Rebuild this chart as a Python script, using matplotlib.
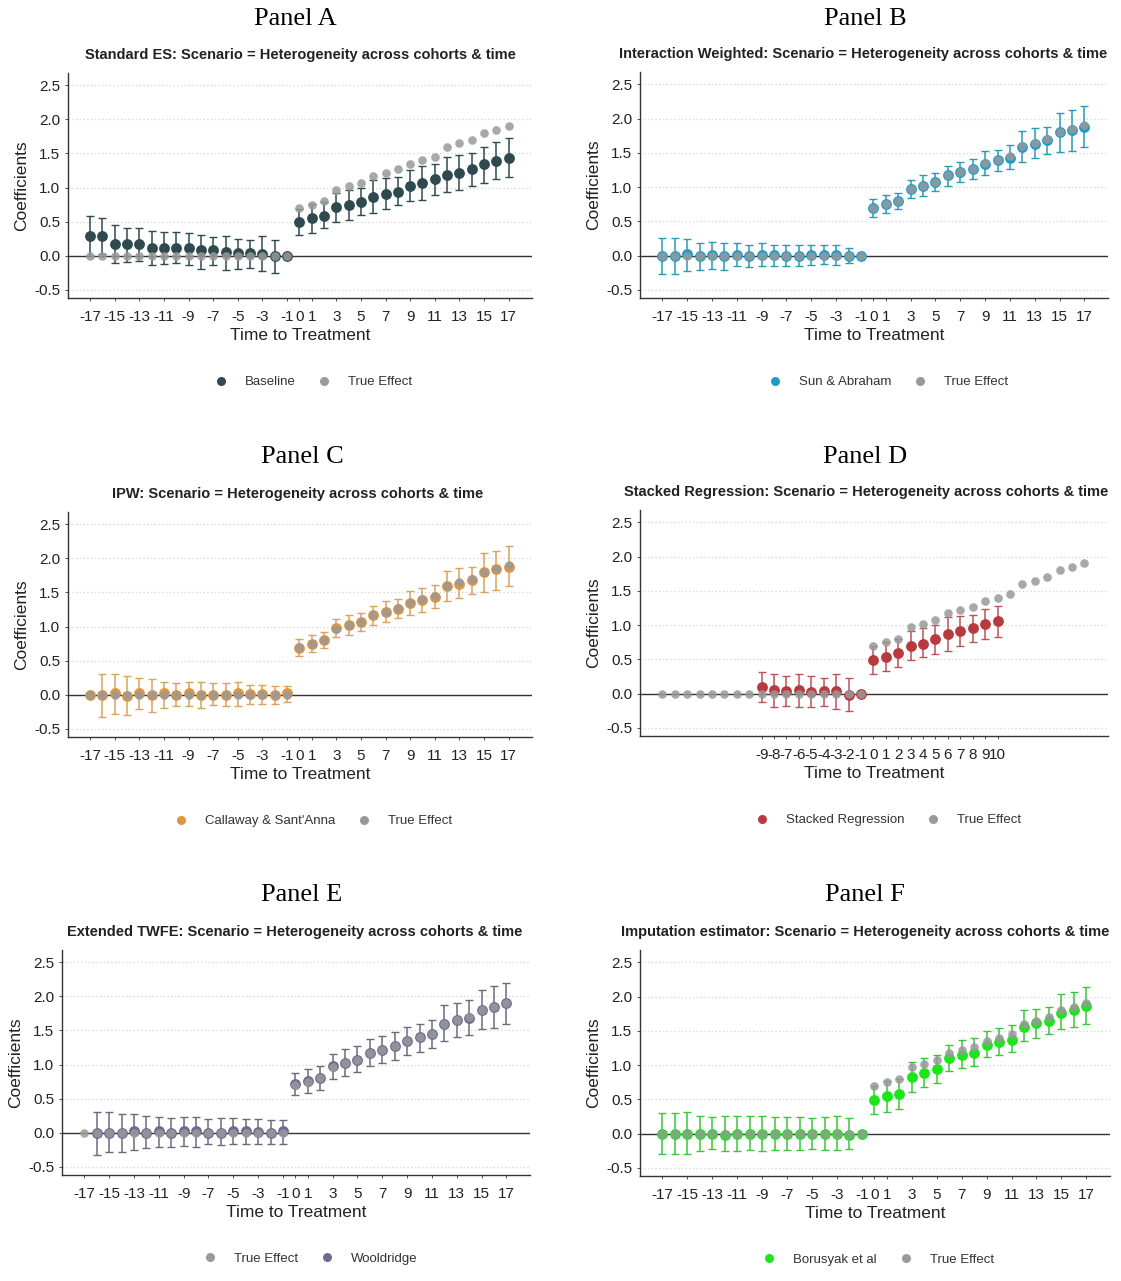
import numpy as np
import matplotlib
matplotlib.use("Agg")
import matplotlib.pyplot as plt
from matplotlib.lines import Line2D

plt.rcParams['font.family'] = ['Liberation Sans', 'DejaVu Sans']

# event time, -17 .. 17
times = list(range(-17, 18))

# true effect (same in every panel)
true_effect = [0.00, 0.00, 0.00, 0.00, 0.00, 0.00, 0.00, 0.00, 0.00, 0.00, 0.00, 0.00, 0.00, 0.00, 0.00, 0.00, 0.00,
               0.70, 0.75, 0.80, 0.97, 1.02, 1.07, 1.17, 1.22, 1.27, 1.35, 1.40, 1.45, 1.60, 1.65, 1.70, 1.80, 1.85, 1.90]

# Panel A - Baseline (standard event study)
base_est = [0.29, 0.29, 0.17, 0.17, 0.17, 0.12, 0.12, 0.12, 0.11, 0.08, 0.08, 0.06, 0.04, 0.04, 0.03, -0.01, 0.00,
            0.49, 0.55, 0.59, 0.72, 0.75, 0.79, 0.86, 0.91, 0.94, 1.02, 1.06, 1.12, 1.19, 1.22, 1.27, 1.34, 1.39, 1.43]
base_lo = [-0.01, 0.02, -0.11, -0.09, -0.07, -0.14, -0.12, -0.10, -0.14, -0.20, -0.14, -0.21, -0.20, -0.18, -0.23, -0.25, None,
           0.30, 0.33, 0.40, 0.50, 0.53, 0.60, 0.63, 0.68, 0.74, 0.80, 0.82, 0.89, 0.93, 0.96, 1.02, 1.07, 1.13, 1.16]
base_hi = [0.58, 0.55, 0.45, 0.41, 0.41, 0.37, 0.35, 0.35, 0.33, 0.30, 0.27, 0.29, 0.25, 0.23, 0.29, 0.23, None,
           0.69, 0.76, 0.79, 0.92, 0.96, 0.99, 1.11, 1.14, 1.16, 1.26, 1.31, 1.34, 1.45, 1.48, 1.50, 1.60, 1.67, 1.73]

# Panel B - Sun & Abraham
sa_est = [0.00, 0.00, 0.02, 0.00, 0.01, 0.00, 0.01, 0.00, 0.01, 0.01, 0.00, 0.00, 0.01, 0.01, 0.01, 0.00, 0.00,
          0.70, 0.75, 0.80, 0.97, 1.02, 1.07, 1.17, 1.22, 1.26, 1.34, 1.39, 1.43, 1.59, 1.63, 1.68, 1.80, 1.83, 1.87]
sa_lo = [-0.27, -0.27, -0.23, -0.21, -0.19, -0.21, -0.16, -0.17, -0.16, -0.16, -0.16, -0.16, -0.14, -0.12, -0.14, -0.11, None,
         0.57, 0.62, 0.68, 0.84, 0.87, 0.94, 1.02, 1.07, 1.12, 1.17, 1.23, 1.27, 1.37, 1.42, 1.48, 1.51, 1.53, 1.58]
sa_hi = [0.26, 0.26, 0.24, 0.19, 0.20, 0.19, 0.18, 0.16, 0.18, 0.16, 0.16, 0.15, 0.15, 0.15, 0.15, 0.11, None,
         0.83, 0.88, 0.92, 1.11, 1.17, 1.21, 1.31, 1.37, 1.41, 1.52, 1.54, 1.62, 1.82, 1.86, 1.88, 2.08, 2.12, 2.18]

# Panel C - Callaway & Sant'Anna
cs_est = [0.00, 0.00, 0.02, -0.02, 0.02, 0.00, 0.02, 0.00, 0.02, 0.00, 0.00, 0.00, 0.02, 0.01, 0.01, 0.00, 0.02,
          0.69, 0.75, 0.81, 0.98, 1.02, 1.06, 1.17, 1.21, 1.26, 1.34, 1.39, 1.43, 1.59, 1.62, 1.68, 1.80, 1.84, 1.88]
cs_lo = [None, -0.32, -0.28, -0.30, -0.21, -0.25, -0.19, -0.16, -0.16, -0.19, -0.15, -0.16, -0.16, -0.14, -0.14, -0.14, -0.10,
         0.57, 0.62, 0.68, 0.84, 0.87, 0.93, 1.02, 1.07, 1.12, 1.17, 1.22, 1.27, 1.38, 1.42, 1.48, 1.50, 1.54, 1.59]
cs_hi = [None, 0.30, 0.30, 0.27, 0.25, 0.23, 0.19, 0.17, 0.19, 0.18, 0.17, 0.17, 0.18, 0.15, 0.15, 0.13, 0.13,
         0.82, 0.87, 0.92, 1.11, 1.17, 1.20, 1.30, 1.37, 1.41, 1.52, 1.56, 1.61, 1.81, 1.86, 1.88, 2.08, 2.11, 2.18]

# Panel D - Stacked regression (only -9 .. 10)
st_est = [None, None, None, None, None, None, None, None,
          0.10, 0.05, 0.04, 0.05, 0.02, 0.03, 0.03, -0.02, 0.00,
          0.49, 0.54, 0.59, 0.69, 0.73, 0.79, 0.87, 0.91, 0.95, 1.01, 1.06,
          None, None, None, None, None, None, None]
st_lo = [None, None, None, None, None, None, None, None,
         -0.12, -0.20, -0.18, -0.19, -0.20, -0.18, -0.22, -0.25, None,
         0.29, 0.33, 0.39, 0.49, 0.53, 0.58, 0.62, 0.69, 0.75, 0.79, 0.83,
         None, None, None, None, None, None, None]
st_hi = [None, None, None, None, None, None, None, None,
         0.31, 0.29, 0.26, 0.28, 0.25, 0.23, 0.28, 0.22, None,
         0.69, 0.75, 0.79, 0.91, 0.95, 1.00, 1.12, 1.13, 1.15, 1.24, 1.28,
         None, None, None, None, None, None, None]

# Panel E - Wooldridge (extended TWFE)
wo_est = [None, 0.00, 0.00, 0.00, 0.02, 0.00, 0.02, 0.00, 0.02, 0.02, 0.00, 0.00, 0.02, 0.02, 0.01, 0.00, 0.02,
          0.71, 0.76, 0.80, 0.98, 1.02, 1.07, 1.17, 1.22, 1.27, 1.35, 1.40, 1.45, 1.60, 1.66, 1.69, 1.80, 1.84, 1.90]
wo_lo = [None, -0.32, -0.28, -0.28, -0.25, -0.23, -0.21, -0.21, -0.19, -0.21, -0.17, -0.18, -0.17, -0.16, -0.16, -0.17, -0.16,
         0.55, 0.58, 0.63, 0.79, 0.83, 0.89, 0.98, 1.02, 1.07, 1.14, 1.19, 1.24, 1.34, 1.40, 1.43, 1.52, 1.54, 1.59]
wo_hi = [None, 0.30, 0.30, 0.27, 0.27, 0.25, 0.23, 0.22, 0.23, 0.23, 0.20, 0.22, 0.22, 0.20, 0.20, 0.18, 0.18,
         0.88, 0.93, 0.98, 1.15, 1.23, 1.27, 1.38, 1.42, 1.48, 1.55, 1.60, 1.65, 1.87, 1.90, 1.94, 2.10, 2.15, 2.20]

# Panel F - Borusyak et al (imputation)
bo_est = [0.00, 0.00, 0.00, 0.00, 0.00, -0.02, 0.00, 0.00, 0.00, 0.00, 0.00, 0.00, 0.00, 0.00, 0.00, -0.02, 0.00,
          0.49, 0.55, 0.58, 0.82, 0.88, 0.94, 1.10, 1.14, 1.18, 1.30, 1.33, 1.37, 1.56, 1.61, 1.64, 1.76, 1.81, 1.86]
bo_lo = [-0.30, -0.30, -0.30, -0.26, -0.23, -0.26, -0.26, -0.24, -0.25, -0.24, -0.24, -0.24, -0.22, -0.24, -0.24, -0.23, None,
         0.28, 0.32, 0.36, 0.61, 0.68, 0.74, 0.91, 0.96, 0.99, 1.12, 1.15, 1.19, 1.35, 1.40, 1.45, 1.52, 1.55, 1.60]
bo_hi = [0.30, 0.30, 0.32, 0.25, 0.24, 0.25, 0.25, 0.25, 0.25, 0.24, 0.24, 0.24, 0.22, 0.24, 0.25, 0.22, None,
         0.70, 0.76, 0.79, 1.04, 1.11, 1.14, 1.29, 1.36, 1.39, 1.49, 1.54, 1.59, 1.81, 1.82, 1.85, 2.04, 2.07, 2.14]

full_ticks = [-17, -15, -13, -11, -9, -7, -5, -3, -1, 0, 1, 3, 5, 7, 9, 11, 13, 15, 17]
stacked_ticks = [-9, -8, -7, -6, -5, -4, -3, -2, -1, 0, 1, 2, 3, 4, 5, 6, 7, 8, 9, 10]

W, H = 1121, 1281
fig = plt.figure(figsize=(W / 100, H / 100), dpi=100)
TRUE_COL = '#999999'


def arr(v):
    return np.array([np.nan if x is None else x for x in v], dtype=float)


def panel(rect, letter, head_x, head_y, title, title_x, est, lo, hi, color, ecolor,
          ticks, legend, leg_x):
    l, t, r, b = rect
    ax = fig.add_axes([l / W, 1 - b / H, (r - l) / W, (b - t) / H])
    x = np.array(times, dtype=float)
    e, lo_, hi_ = arr(est), arr(lo), arr(hi)
    tr = arr(true_effect)

    ax.axhline(0, color='#333333', lw=1.0, zorder=1)
    m = ~np.isnan(lo_)
    ax.errorbar(x[m], e[m], yerr=[e[m] - lo_[m], hi_[m] - e[m]], fmt='none',
                ecolor=ecolor, elinewidth=1.1, capsize=3.2, capthick=1.0, zorder=2)
    me = ~np.isnan(e)
    ax.plot(x[me], e[me], 'o', color=color, ms=7.8, mec='none', zorder=3)
    ax.plot(x, tr, 'o', color=TRUE_COL, ms=6.2, mec='none', alpha=0.85, zorder=4)

    ax.set_xlim(-18.8, 18.9)
    ax.set_ylim(-0.62, 2.68)
    ax.set_yticks([-0.5, 0.0, 0.5, 1.0, 1.5, 2.0, 2.5])
    ax.set_yticklabels(['-0.5', '0.0', '0.5', '1.0', '1.5', '2.0', '2.5'])
    ax.set_xticks(ticks)
    ax.set_xticklabels([str(v) for v in ticks])
    ax.yaxis.grid(True, linestyle=(0, (1, 2)), color='#d2d2d2', lw=0.9)
    ax.set_axisbelow(True)
    for s in ['top', 'right']:
        ax.spines[s].set_visible(False)
    for s in ['left', 'bottom']:
        ax.spines[s].set_color('#333333')
        ax.spines[s].set_linewidth(1.0)
    ax.tick_params(axis='both', labelsize=11, colors='#333333', labelcolor='#222222',
                   length=2.5, width=0.6, pad=3)
    ax.tick_params(axis='x', pad=6)
    ax.set_xlabel('Time to Treatment', fontsize=12.5, color='#222222', labelpad=3)
    ax.set_ylabel('Coefficients', fontsize=12.5, color='#222222', labelpad=4)

    fig.text(head_x / W, 1 - head_y / H, letter, ha='center', va='center',
             fontsize=19, family='Liberation Serif')
    fig.text(title_x / W, 1 - (t - 18) / H, title, ha='center', va='center',
             fontsize=10.5, fontweight='bold', color='#222222')

    handles = []
    for lab, col in legend:
        handles.append(Line2D([], [], marker='o', ls='none', color=col, ms=6.5, mec='none', label=lab))
    fig.legend(handles=handles, loc='center', bbox_to_anchor=(leg_x / W, 1 - (b + 84) / H),
               ncol=len(handles), frameon=False, fontsize=9.5, handletextpad=0.8,
               columnspacing=1.2, labelcolor='#333333')
    return ax


title_tail = ': Scenario = Heterogeneity across cohorts & time'
panel((68, 73, 532, 298), 'Panel A', 295, 19, 'Standard ES' + title_tail, 300,
      base_est, base_lo, base_hi, '#2F4A4F', '#2F4A4F', full_ticks,
      [('Baseline', '#2F4A4F'), ('True Effect', TRUE_COL)], 310)
panel((640, 72, 1108, 298), 'Panel B', 865, 19, 'Interaction Weighted' + title_tail, 863,
      sa_est, sa_lo, sa_hi, '#1F9BC9', '#2A9AB5', full_ticks,
      [('Sun & Abraham', '#1F9BC9'), ('True Effect', TRUE_COL)], 885)
panel((68, 512, 532, 737), 'Panel C', 302, 457, 'IPW' + title_tail, 298,
      cs_est, cs_lo, cs_hi, '#E0963E', '#D9A25E', full_ticks,
      [("Callaway & Sant'Anna", '#E0963E'), ('True Effect', TRUE_COL)], 310)
panel((640, 510, 1108, 736), 'Panel D', 865, 457, 'Stacked Regression' + title_tail, 866,
      st_est, st_lo, st_hi, '#B83A3F', '#B8555A', stacked_ticks,
      [('Stacked Regression', '#B83A3F'), ('True Effect', TRUE_COL)], 885)
panel((62, 950, 530, 1175), 'Panel E', 302, 895, 'Extended TWFE' + title_tail, 295,
      wo_est, wo_lo, wo_hi, '#6B6B94', '#6B6B80', full_ticks,
      [('True Effect', TRUE_COL), ('Wooldridge', '#6B6B94')], 307)
panel((640, 950, 1110, 1176), 'Panel F', 865, 895, 'Imputation estimator' + title_tail, 865,
      bo_est, bo_lo, bo_hi, '#1AE61A', '#3CC43C', full_ticks,
      [('Borusyak et al', '#1AE61A'), ('True Effect', TRUE_COL)], 875)

fig.savefig('out.png', dpi=100, facecolor='white')
